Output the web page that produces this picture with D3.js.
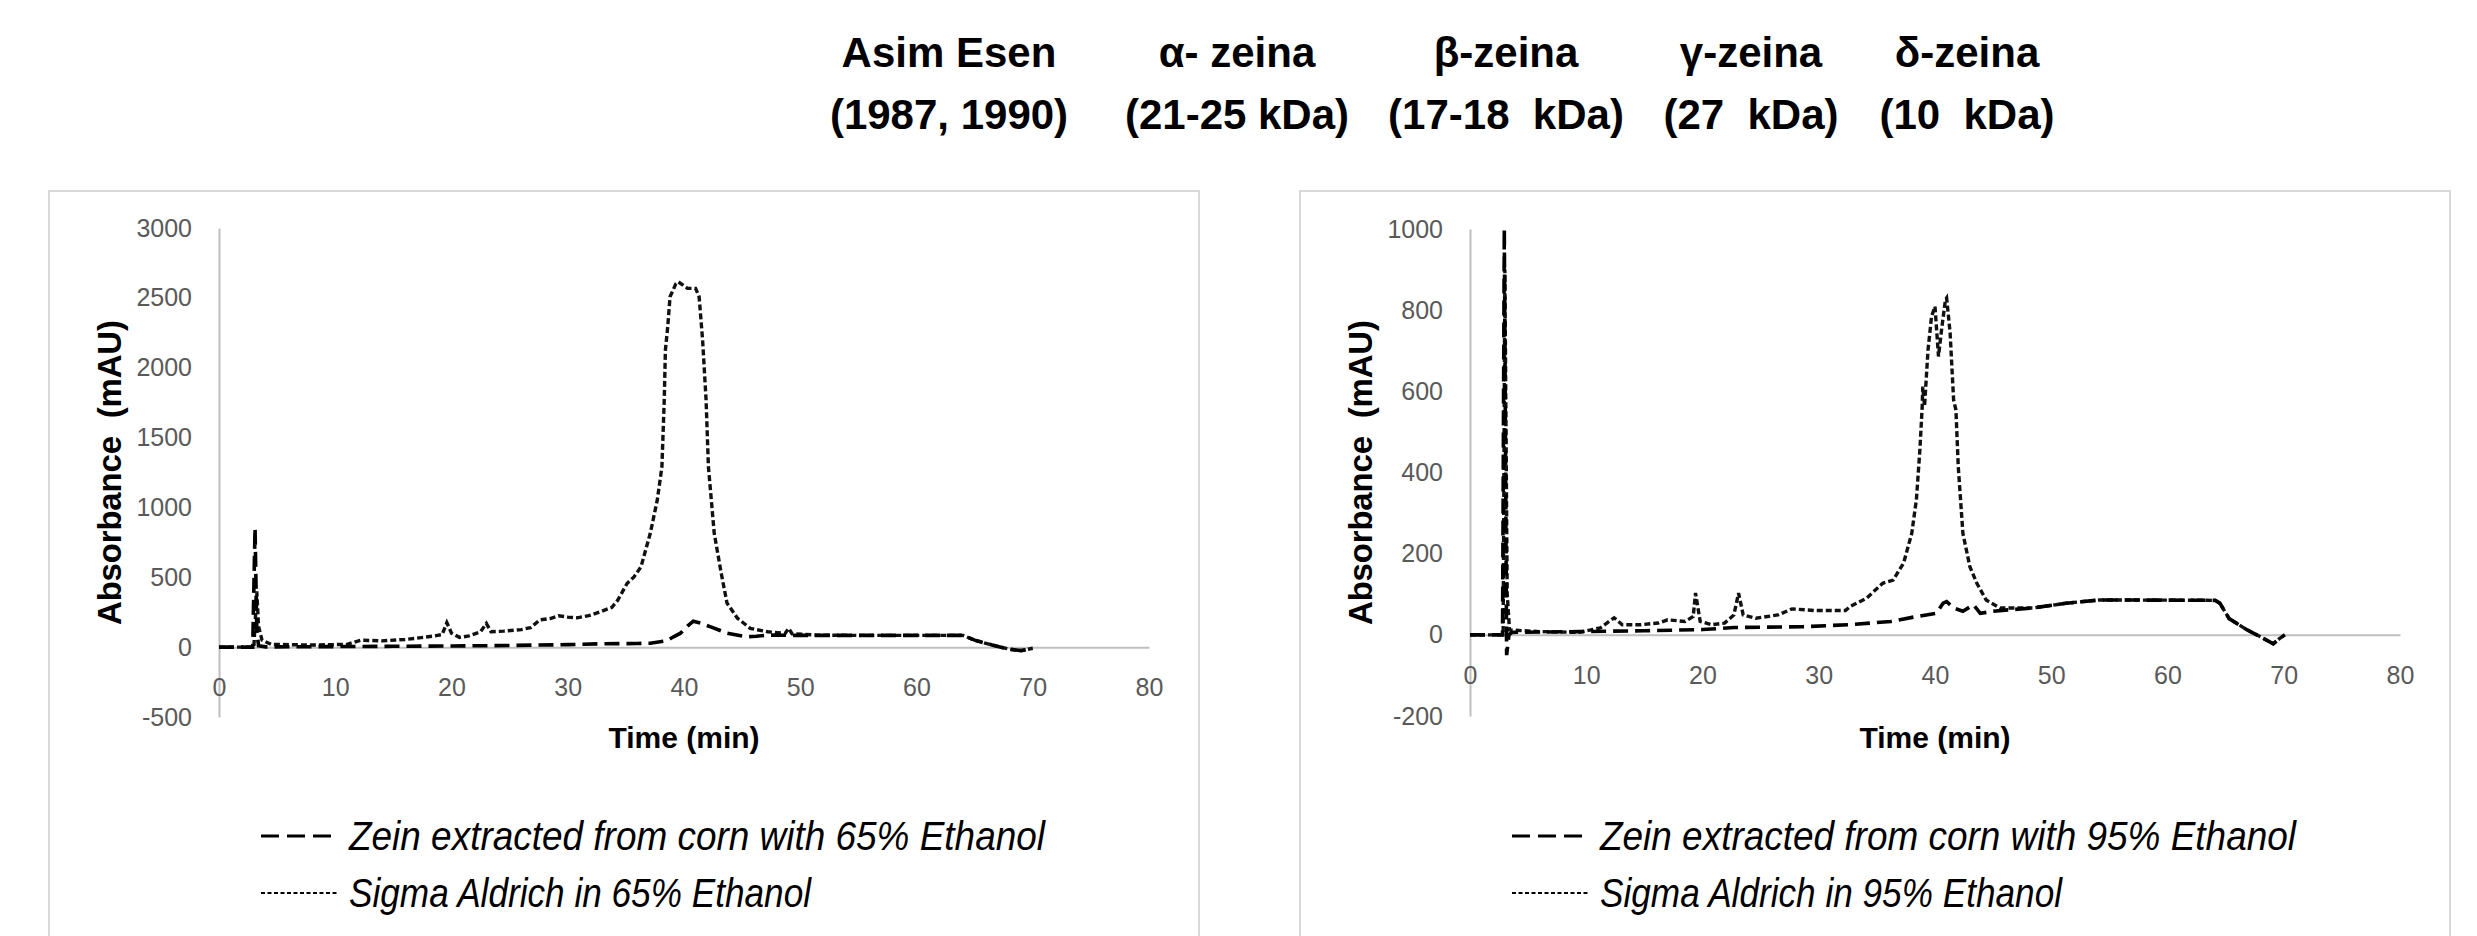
<!DOCTYPE html>
<html>
<head>
<meta charset="utf-8">
<script src="https://cdn.jsdelivr.net/npm/d3@7"></script>
<style>
  body { margin: 0; background: #fff; }
  text { font-family: "Liberation Sans", Arial, sans-serif; }
</style>
</head>
<body>
<svg id="fig" width="2477" height="936"></svg>
<script>
// header text, two lines per column
const headTop = ["Asim Esen", "α- zeina", "β-zeina", "γ-zeina", "δ-zeina"];
const headBottom = ["(1987, 1990)", "(21-25 kDa)", "(17-18  kDa)", "(27  kDa)", "(10  kDa)"];

// axis ticks
const timeTicks = [0, 10, 20, 30, 40, 50, 60, 70, 80];
const absTicks65 = [-500, 0, 500, 1000, 1500, 2000, 2500, 3000];
const absTicks95 = [-200, 0, 200, 400, 600, 800, 1000];

// legend labels
const legend65 = ["Zein extracted from corn with 65% Ethanol", "Sigma Aldrich in 65% Ethanol"];
const legend95 = ["Zein extracted from corn with 95% Ethanol", "Sigma Aldrich in 95% Ethanol"];

// chromatograms: [time (min), absorbance (mAU)]
const zein65 = [[0,0],[2.9,0],[3.1,850],[3.25,120],[3.4,10],[4,2],[10,4],[15,6],[20,8],[25,12],[30,18],
  [33,24],[36,26],[37.1,28],[38.5,45],[39.1,74],[39.7,100],[40.3,150],[40.8,186],[41.3,175],[42.3,145],
  [43.7,100],[45.4,74],[46.2,78],[47.2,86],[50,84],[55,84],[60,84],[64,84],[65,50],[66.5,15],[68,-15],
  [69,-25],[70,-8]];
const sigma65 = [[0,0],[3.0,0],[3.25,400],[3.4,150],[3.7,50],[4.5,20],[8,15],[11,20],[12.2,50],[14,45],
  [16,55],[17.2,66],[18.5,80],[19.2,90],[19.6,175],[20,100],[20.7,70],[21.5,80],[22.5,110],[23,170],
  [23.4,110],[24.5,115],[26,125],[26.8,140],[27.6,195],[28.5,205],[29.2,225],[30,215],[30.8,210],
  [31.8,225],[32.8,253],[33.8,285],[34.3,336],[35.1,456],[35.7,503],[36.3,575],[37.1,815],[37.7,1052],
  [38.1,1291],[38.3,1768],[38.4,2126],[38.6,2293],[38.8,2508],[39.3,2600],[39.5,2615],[40.3,2568],
  [41.0,2568],[41.3,2508],[41.6,2198],[41.9,1768],[42.1,1291],[42.6,815],[43.2,530],[43.7,315],
  [44.6,207],[45.7,134],[47.2,110],[48.7,98],[49.0,134],[49.3,96],[51.5,86],[55,84],[60,84],[64,84],
  [65,50],[66.5,15],[68,-15],[69,-25],[70,-8]];
const zein95 = [[0,0],[2.8,0],[2.95,1000],[3.15,-50],[3.35,0],[3.6,6],[9.4,8],[15,10],[20,13],[22.7,18],
  [28.6,20],[32.7,25],[36.2,33],[38.4,45],[40.1,53],[40.7,78],[41.0,82],[41.6,66],[42.4,58],[43.3,74],
  [43.9,53],[45.0,58],[46.5,62],[48.4,66],[51.3,78],[54.2,86],[64.1,85],[64.5,78],[65.3,40],[66.8,13],
  [68,-5],[69.1,-22],[69.6,-10],[70.1,0]];
const sigma95 = [[0,0],[2.85,0],[3.0,900],[3.2,100],[3.4,12],[6,8],[9.4,6],[11.2,17],[12.4,42],[13.1,25],
  [14.7,25],[16.2,29],[17.0,37],[18.5,33],[19.2,45],[19.4,103],[19.8,33],[20.8,25],[21.9,29],[22.7,49],
  [23.1,103],[23.5,49],[24.6,41],[26.5,49],[27.7,64],[29.6,60],[32.3,60],[32.7,70],[34.1,90],[35.5,127],
  [36.4,135],[37.3,177],[38.0,250],[38.4,333],[38.7,456],[38.9,563],[38.95,612],[39.1,563],[39.4,702],
  [39.7,784],[40.0,809],[40.3,686],[40.6,760],[40.9,826],[41.0,830],[41.3,744],[41.6,579],[41.8,554],
  [42.0,415],[42.4,250],[43.0,168],[43.6,127],[44.4,86],[45.6,66],[48.4,66],[51.3,78],[54.2,86],
  [64.1,85],[64.5,78],[65.3,40],[66.8,13],[68,-5],[69.1,-22],[69.6,-10],[70.1,0]];

const svg = d3.select("#fig");

// header
const headX = [949, 1237, 1506, 1751, 1967];
const head = svg.append("g").attr("font-weight", "bold").attr("font-size", 42).attr("text-anchor", "middle");
head.selectAll("text.top").data(headTop).join("text").attr("class", "top")
  .attr("x", (d, i) => headX[i]).attr("y", 67).text(d => d);
head.selectAll("text.bot").data(headBottom).join("text").attr("class", "bot")
  .attr("x", (d, i) => headX[i]).attr("y", 129).attr("xml:space", "preserve").text(d => d);

function panel(opt) {
  const g = svg.append("g").attr("transform", `translate(${opt.left},0)`);

  // chart area frame
  g.append("rect").attr("x", 0).attr("y", 191).attr("width", 1150).attr("height", 800)
    .attr("fill", "none").attr("stroke", "#d9d9d9").attr("stroke-width", 2);

  const x = d3.scaleLinear().domain([0, 80]).range([170, 1100]);
  const y = d3.scaleLinear().domain(opt.yDomain).range(opt.yRange);

  const yAxis = g.append("g").attr("transform", `translate(${x(0)},0)`)
    .call(d3.axisLeft(y).tickValues(opt.yTicks).tickFormat(d => String(d))
      .tickSize(0).tickSizeOuter(0).tickPadding(27));
  const xAxis = g.append("g").attr("transform", `translate(0,${y(0)})`)
    .call(d3.axisBottom(x).tickValues(timeTicks).tickFormat(d => String(d))
      .tickSize(0).tickSizeOuter(0).tickPadding(31));
  [yAxis, xAxis].forEach(a => {
    a.select(".domain").attr("stroke", "#bfbfbf").attr("stroke-width", 2);
    a.selectAll("text").attr("font-family", "'Open Sans', sans-serif").attr("font-size", 25).attr("fill", "#595959");
  });

  const line = d3.line().x(d => x(d[0])).y(d => y(d[1]));
  g.append("path").datum(opt.sigma).attr("d", line).attr("fill", "none")
    .attr("stroke", "#111").attr("stroke-width", 3.4).attr("stroke-dasharray", "6,3");
  g.append("path").datum(opt.zein).attr("d", line).attr("fill", "none")
    .attr("stroke", "#000").attr("stroke-width", 3.6).attr("stroke-dasharray", "15,7");

  // axis titles
  const midY = (y.range()[0] + y.range()[1]) / 2;
  g.append("text").attr("transform", `translate(${x(0) - 110},${midY}) rotate(-90)`)
    .attr("text-anchor", "middle").attr("dominant-baseline", "central")
    .attr("font-weight", "bold").attr("font-size", 33).attr("xml:space", "preserve")
    .attr("textLength", 305).attr("lengthAdjust", "spacing")
    .text("Absorbance  (mAU)");
  g.append("text").attr("x", (x(0) + x(80)) / 2).attr("y", 748).attr("text-anchor", "middle")
    .attr("font-weight", "bold").attr("font-size", 30).text("Time (min)");

  // legend
  const lg = g.append("g").attr("transform", "translate(212,0)");
  lg.append("line").attr("x1", 0).attr("x2", 71).attr("y1", 836).attr("y2", 836)
    .attr("stroke", "#000").attr("stroke-width", 3).attr("stroke-dasharray", "18,8");
  lg.append("line").attr("x1", 0).attr("x2", 76).attr("y1", 893).attr("y2", 893)
    .attr("stroke", "#000").attr("stroke-width", 2).attr("stroke-dasharray", "4,2.5");
  lg.selectAll("text").data(opt.legend).join("text")
    .attr("x", 88).attr("y", (d, i) => 850 + i * 57)
    .attr("font-style", "italic").attr("font-size", 40)
    .attr("textLength", (d, i) => i === 0 ? 696 : 462).attr("lengthAdjust", "spacingAndGlyphs")
    .text(d => d);
}

panel({ left: 49, yDomain: [-500, 3000], yRange: [717, 228], yTicks: absTicks65,
  zein: zein65, sigma: sigma65, legend: legend65 });
panel({ left: 1300, yDomain: [-200, 1000], yRange: [716, 229], yTicks: absTicks95,
  zein: zein95, sigma: sigma95, legend: legend95 });
</script>
</body>
</html>
